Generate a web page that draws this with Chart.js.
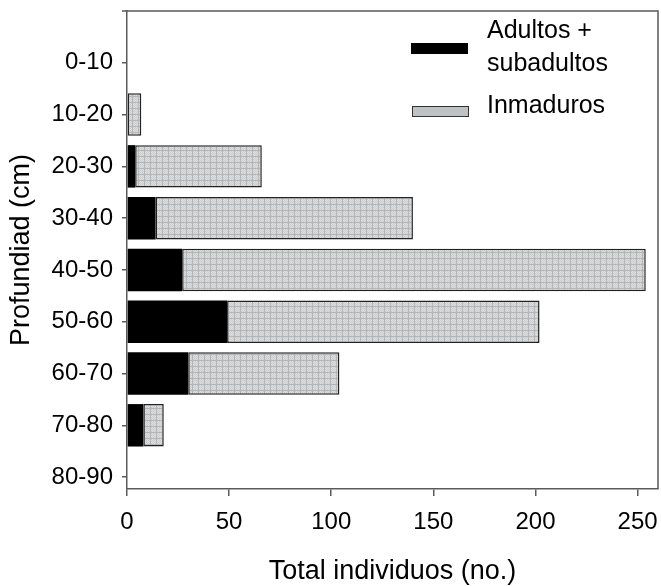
<!DOCTYPE html>
<html>
<head>
<meta charset="utf-8">
<script src="https://cdn.jsdelivr.net/npm/chart.js@4.4.0/dist/chart.umd.min.js"></script>
<style>
  html, body { margin: 0; padding: 0; background: #fff; }
  #wrap { width: 661px; height: 586px; }
</style>
</head>
<body>
<div id="wrap"><canvas id="profChart" width="661" height="586"></canvas></div>
<script>
// -------------------- DATOS --------------------
const categories = ['0-10', '10-20', '20-30', '30-40', '40-50', '50-60', '60-70', '70-80', '80-90'];
const adultos = [0, 0, 4, 14, 27, 49, 30, 8, 0];
const inmaduros = [0, 7, 62, 126, 227, 153, 74, 10, 0];
const xTicks = [0, 50, 100, 150, 200, 250];
const legendLabels = [['Adultos +', 'subadultos'], ['Inmaduros']];

const FONT = "'Liberation Sans', Arial, sans-serif";
const AXIS = '#5a5a5a';

// trama gris con cuadricula para los inmaduros
function makePattern() {
  const c = document.createElement('canvas');
  c.width = 6; c.height = 6;
  const g = c.getContext('2d');
  g.fillStyle = '#dddfe0';
  g.fillRect(0, 0, 6, 6);
  g.fillStyle = '#cacccd';
  for (let y = 1; y < 6; y++) {
    for (let x = 1; x < 6; x++) {
      if ((x + y) % 2 === 0) g.fillRect(x, y, 1, 1);
    }
  }
  g.fillStyle = '#b4b6b8';
  g.fillRect(0, 0, 6, 1);
  g.fillRect(0, 0, 1, 6);
  return g.createPattern(c, 'repeat');
}

// -------------------- MARCO Y LEYENDA --------------------
const frameAndLegend = {
  id: 'frameAndLegend',
  afterDraw(chart) {
    const { ctx, chartArea: a } = chart;
    ctx.save();
    ctx.strokeStyle = AXIS;
    ctx.lineWidth = 1.5;
    ctx.beginPath();
    ctx.moveTo(a.left - 5, a.top);
    ctx.lineTo(a.right, a.top);
    ctx.lineTo(a.right, a.bottom);
    ctx.stroke();

    // leyenda
    ctx.font = '25px ' + FONT;
    ctx.fillStyle = '#000';
    ctx.textBaseline = 'middle';
    ctx.fillRect(411, 43, 57, 11);
    ctx.fillText(legendLabels[0][0], 487, 31);
    ctx.fillText(legendLabels[0][1], 487, 64);

    ctx.fillStyle = '#bfc2c5';
    ctx.fillRect(412, 106, 57, 11);
    ctx.strokeStyle = '#333';
    ctx.lineWidth = 1;
    ctx.strokeRect(412.5, 106.5, 56, 10);
    ctx.fillStyle = '#000';
    ctx.fillText(legendLabels[1][0], 487, 106);
    ctx.restore();
  }
};

// -------------------- GRAFICO --------------------
const ctx = document.getElementById('profChart').getContext('2d');
const gris = makePattern();

new Chart(ctx, {
  type: 'bar',
  data: {
    datasets: [
      {
        label: legendLabels[0].join(' '),
        data: adultos.map((v, i) => ({ x: v, y: i })),
        backgroundColor: '#000',
        borderWidth: 0,
      },
      {
        label: legendLabels[1][0],
        data: inmaduros.map((v, i) => ({ x: v, y: i })),
        backgroundColor: gris,
        borderColor: '#222',
        borderWidth: 1.5,
        borderSkipped: false,
      },
    ],
  },
  options: {
    indexAxis: 'y',
    responsive: false,
    animation: false,
    events: [],
    categoryPercentage: 1,
    barPercentage: 0.82,
    layout: { padding: { top: 11, right: 3, left: 0, bottom: 0 } },
    plugins: {
      legend: { display: false },
      tooltip: { enabled: false },
    },
    scales: {
      x: {
        type: 'linear',
        stacked: true,
        min: 0,
        max: 260,
        afterBuildTicks: s => { s.ticks = xTicks.map(v => ({ value: v })); },
        afterFit: s => { s.height = 97; s.paddingLeft = 0; s.paddingRight = 0; },
        grid: { drawOnChartArea: false, color: AXIS, lineWidth: 1.5, tickLength: 7 },
        border: { color: AXIS, width: 1.5 },
        ticks: { color: '#000', padding: 12, font: { size: 24, family: FONT } },
        title: {
          display: true,
          text: 'Total individuos (no.)',
          color: '#000',
          font: { size: 27, family: FONT },
          padding: { top: 0, bottom: -2 },
        },
      },
      y: {
        type: 'linear',
        stacked: true,
        reverse: true,
        offset: false,
        min: -1,
        max: 8.23,
        afterBuildTicks: s => { s.ticks = categories.map((c, i) => ({ value: i })); },
        afterFit: s => { s.width = 127; s.paddingTop = 0; s.paddingBottom = 0; },
        grid: { offset: false, drawOnChartArea: false, color: AXIS, lineWidth: 1.5, tickLength: 5 },
        border: { color: AXIS, width: 1.5 },
        ticks: {
          color: '#000',
          padding: 9,
          font: { size: 24, family: FONT },
          callback: v => categories[v],
        },
        title: {
          display: true,
          text: 'Profundiad (cm)',
          color: '#000',
          font: { size: 27, family: FONT },
          padding: { top: 5, bottom: 0 },
        },
      },
    },
  },
  plugins: [frameAndLegend],
});
</script>
</body>
</html>
